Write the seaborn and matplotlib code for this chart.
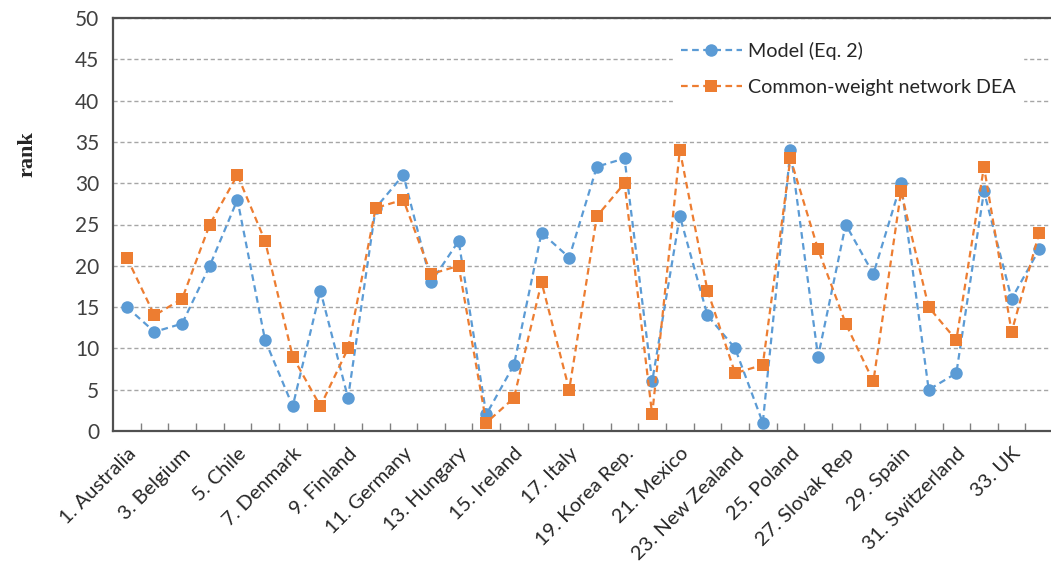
import matplotlib
matplotlib.use("Agg")
import matplotlib.pyplot as plt
import seaborn as sns
import pandas as pd
import numpy as np

# ---- data ----
country_no = list(range(1, 35))
tick_labels = ["1. Australia", "3. Belgium", "5. Chile", "7. Denmark", "9. Finland",
               "11. Germany", "13. Hungary", "15. Ireland", "17. Italy", "19. Korea Rep.",
               "21. Mexico", "23. New Zealand", "25. Poland", "27. Slovak Rep", "29. Spain",
               "31. Switzerland", "33. UK"]
tick_positions = [1, 3, 5, 7, 9, 11, 13, 15, 17, 19, 21, 23, 25, 27, 29, 31, 33]
model_eq2 = [15, 12, 13, 20, 28, 11, 3, 17, 4, 27, 31, 18, 23, 2, 8, 24, 21, 32, 33, 6,
             26, 14, 10, 1, 34, 9, 25, 19, 30, 5, 7, 29, 16, 22]
cw_dea = [21, 14, 16, 25, 31, 23, 9, 3, 10, 27, 28, 19, 20, 1, 4, 18, 5, 26, 30, 2,
          34, 17, 7, 8, 33, 22, 13, 6, 29, 15, 11, 32, 12, 24]
series_names = ["Model (Eq. 2)", "Common-weight network DEA"]

df = pd.DataFrame({"no": country_no * 2,
                   "rank": model_eq2 + cw_dea,
                   "series": [series_names[0]] * 34 + [series_names[1]] * 34})

sns.set_theme(style="white")
plt.rcParams["font.family"] = ["Lato", "DejaVu Sans"]

fig = plt.figure(figsize=(10.51, 5.70), dpi=100)
ax = fig.add_axes([113 / 1051, 1 - 431 / 570, 1 - 113 / 1051 + 0.002, (431 - 18) / 570])

blue = "#5B9BD5"
orange = "#ED7D31"
palette = {series_names[0]: blue, series_names[1]: orange}
markers = {series_names[0]: "o", series_names[1]: "s"}

sns.lineplot(data=df, x="no", y="rank", hue="series", style="series",
             palette=palette, markers=markers, dashes=False, ax=ax,
             markersize=9, markeredgewidth=0, linewidth=1.6)
for line in ax.get_lines():
    line.set_linestyle((0, (3, 2)))

ax.set_xlim(0.5, 34.5)
ax.set_ylim(0, 50)
ax.set_yticks(np.arange(0, 51, 5))
ax.yaxis.grid(True, color="#A6A6A6", linestyle=(0, (3, 2)), linewidth=1.0)
ax.set_axisbelow(True)
ax.tick_params(axis="y", length=0, labelsize=15, colors="#404040", pad=10)

ax.set_xticks(tick_positions)
ax.set_xticklabels(tick_labels, rotation=45, ha="right", rotation_mode="anchor",
                   fontsize=14.5, color="#262626")
ax.tick_params(axis="x", which="major", length=0, pad=10)
ax.set_xticks(np.arange(1.5, 34.5, 1), minor=True)
ax.tick_params(axis="x", which="minor", direction="in", length=6, width=1.0,
               color="#808080", bottom=True)

for s in ["left", "top", "bottom"]:
    ax.spines[s].set_color("#505050")
    ax.spines[s].set_linewidth(1.6)
ax.spines["right"].set_visible(False)

ax.set_xlabel("")
ax.set_ylabel("rank", fontfamily="Liberation Serif", fontweight="bold",
              fontsize=16, color="#262626")
ax.yaxis.set_label_coords(-0.08, 0.67)

leg = ax.legend(loc="upper left", bbox_to_anchor=(0.585, 0.985), frameon=True,
                fontsize=14.2, handlelength=3.1, handletextpad=0.3,
                labelspacing=0.95, borderpad=0.4)
leg.get_frame().set_facecolor("white")
leg.get_frame().set_edgecolor("white")
leg.get_frame().set_alpha(1.0)
for t in leg.get_texts():
    t.set_color("#262626")
for h in leg.legend_handles:
    h.set_linestyle((0, (3, 2)))

fig.savefig("out.png", dpi=100)
